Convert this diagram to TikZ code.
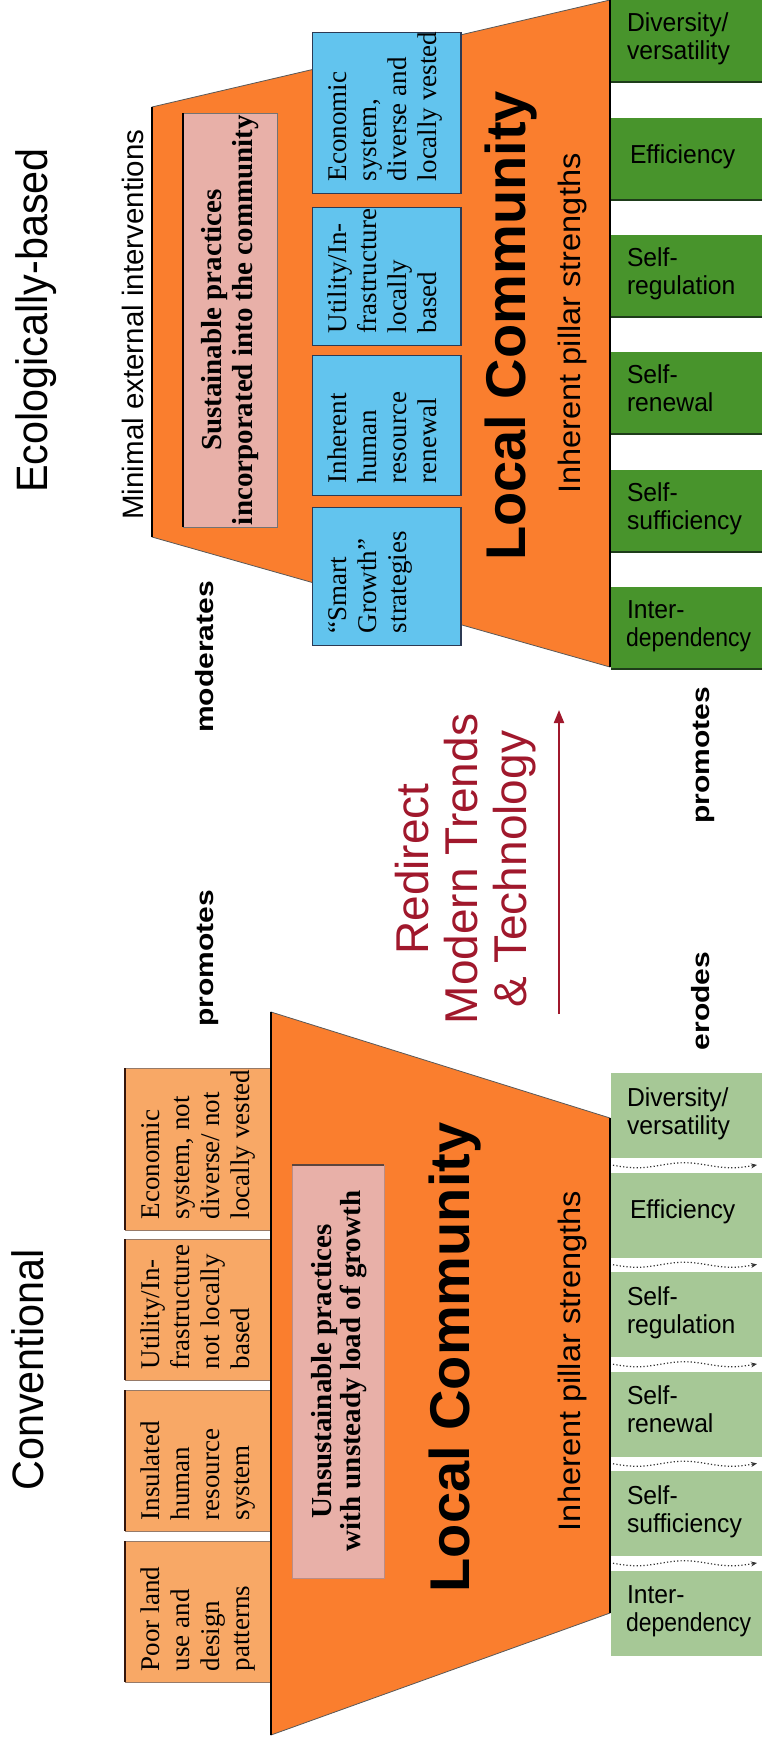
\documentclass[tikz,border=0pt]{standalone}
\usepackage{fontspec}
\usepackage{graphicx}
\usetikzlibrary{arrows.meta}
\setmainfont{Liberation Serif}
\newfontfamily\sansface{Liberation Sans}
\newfontfamily\titleface{Liberation Sans}[FakeStretch=0.94]
\newfontfamily\wideface{Liberation Sans}[FakeStretch=1.2]
\newfontfamily\strengthface{Liberation Sans}[FakeStretch=1.05]
\newfontfamily\pillarface{Liberation Sans}[FakeStretch=0.95]
\newfontfamily\serifface{Liberation Serif}

\definecolor{commorange}{RGB}{250,126,46}
\definecolor{practicepink}{RGB}{232,176,168}
\definecolor{ecoblue}{RGB}{98,196,238}
\definecolor{ecoedge}{RGB}{44,58,84}
\definecolor{convorange}{RGB}{248,168,102}
\definecolor{convedge}{RGB}{150,122,104}
\definecolor{convdark}{RGB}{52,22,12}
\definecolor{pillardark}{RGB}{72,148,44}
\definecolor{pillarshade}{RGB}{30,60,26}
\definecolor{pillarlight}{RGB}{166,200,150}
\definecolor{trendred}{RGB}{160,24,44}

\tikzset{
  vtext/.style={rotate=90, anchor=base, inner sep=0pt, outer sep=0pt},
  vline/.style={rotate=90, anchor=base west, inner sep=0pt, outer sep=0pt},
  sectiontitle/.style={vtext, font=\titleface\fontsize{44}{48}\selectfont},
  relation/.style={vtext, font=\wideface\bfseries\fontsize{25}{28}\selectfont},
  community/.style={vtext, font=\sansface\bfseries\fontsize{56}{60}\selectfont},
  strengths/.style={vtext, font=\strengthface\fontsize{31}{34}\selectfont},
  practice/.style={vtext, font=\serifface\bfseries\fontsize{29}{32}\selectfont},
  boxline/.style={vline, font=\serifface\fontsize{27}{30}\selectfont},
  trend/.style={vtext, text=trendred, font=\sansface\fontsize{46}{49}\selectfont},
  pillarlabel/.style={anchor=base west, inner sep=0pt, outer sep=0pt,
    font=\pillarface\fontsize{26}{28}\selectfont},
  commfill/.style={fill=commorange, draw=black!65, line width=0.8pt},
  heavyedge/.style={line width=2.5pt, black},
  ecobox/.style={fill=ecoblue, draw=ecoedge, line width=1pt,
    minimum width=149pt, inner sep=0pt, outer sep=0pt},
  convbox/.style={fill=convorange, draw=convedge, line width=0.8pt,
    minimum width=146pt, inner sep=0pt, outer sep=0pt},
  pinkbox/.style={fill=practicepink, draw=black!55, line width=0.8pt,
    minimum width=94pt, inner sep=0pt, outer sep=0pt},
  pillartop/.style={fill=pillardark, minimum width=152pt, minimum height=82pt,
    inner sep=0pt, outer sep=0pt},
  pillarlow/.style={fill=pillarlight, minimum width=152pt, minimum height=85pt,
    inner sep=0pt, outer sep=0pt},
  pillarshadow/.style={line width=1.6pt, pillarshade},
  erosion/.style={line width=1.2pt, black!80, dash pattern=on 1.2pt off 2.2pt,
    -{Stealth[length=6pt,width=5pt]}},
}

\begin{document}
\begin{tikzpicture}[x=1pt, y=-1pt]
\useasboundingbox (0,0) rectangle (762,1740);
\fill[white] (0,0) rectangle (762,1740);

% ================= Ecologically-based community =================
\coordinate (ecoTL) at (152,107);
\coordinate (ecoTR) at (610,0);
\coordinate (ecoBR) at (610,667);
\coordinate (ecoBL) at (152,537);
\filldraw[commfill] (ecoTL) -- (ecoTR) -- (ecoBR) -- (ecoBL) -- cycle;
\draw[heavyedge] (ecoTL) -- (ecoBL);

% practices panel
\node[pinkbox, minimum height=414pt] (ecoPractice) at (230,320) {};
\draw[heavyedge] (ecoPractice.north west) -- (ecoPractice.south west);
\node[practice] (ecoPracticeA) at (221,320) {Sustainable practices};
\node[practice] (ecoPracticeB) at (252,320) {incorporated into the community};

% system boxes
\node[ecobox, minimum height=161pt] (eco1) at (386.5,112.5) {};
\node[ecobox, minimum height=138pt] (eco2) at (386.5,276) {};
\node[ecobox, minimum height=140pt] (eco3) at (386.5,425) {};
\node[ecobox, minimum height=138pt] (eco4) at (386.5,576) {};
\foreach \k in {1,...,4}
  \draw[line width=2pt, ecoedge] (eco\k.north east) -- (eco\k.south east);

\foreach \txt [count=\i from 0] in {Economic,{system,},{diverse and},{locally vested}}
  \node[boxline] (ecoTextA\i) at ({346+30*\i},181) {\txt};
\foreach \txt [count=\i from 0] in {Utility/In-,frastructure,locally,based}
  \node[boxline] (ecoTextB\i) at ({346+30*\i},333) {\txt};
\foreach \txt [count=\i from 0] in {Inherent,human,resource,renewal}
  \node[boxline] (ecoTextC\i) at ({346+30*\i},483) {\txt};
\foreach \txt [count=\i from 0] in {“Smart,Growth”,strategies}
  \node[boxline] (ecoTextD\i) at ({346+30*\i},633) {\txt};

\node[community] (ecoCommunity) at (525,326) {Local Community};
\node[strengths] (ecoStrengths) at (580,323.5) {Inherent pillar strengths};

% pillars of strength
\foreach \t [count=\k] in {0,118,235,352,470,587}
  \node[pillartop] (ptop\k) at (687,{\t+41}) {};
\foreach \k in {1,...,6}
  \draw[pillarshadow] (ptop\k.south west) -- (ptop\k.south east);
\draw[heavyedge] (ecoTR) -- (ecoBR);

\node[pillarlabel] (ptopA1) at (627,31) {Diversity/};
\node[pillarlabel] (ptopB1) at (627,59) {versatility};
\node[pillarlabel] (ptopA2) at (630,163) {Efficiency};
\node[pillarlabel] (ptopA3) at (627,266) {Self-};
\node[pillarlabel] (ptopB3) at (627,294) {regulation};
\node[pillarlabel] (ptopA4) at (627,383) {Self-};
\node[pillarlabel] (ptopB4) at (627,411) {renewal};
\node[pillarlabel] (ptopA5) at (627,501) {Self-};
\node[pillarlabel] (ptopB5) at (627,529) {sufficiency};
\node[pillarlabel] (ptopA6) at (627,618) {Inter-};
\node[pillarlabel] (ptopB6) at (626,646) {\scalebox{0.93}[1]{dependency}};

\node[sectiontitle] (ecoTitle) at (47,320.5) {Ecologically-based};
\node[vtext, font=\sansface\fontsize{29.5}{32}\selectfont] (ecoMinimal)
  at (143,324.5) {Minimal external interventions};

% ================= relations and redirection =================
\node[relation] (relModerates) at (213,657) {moderates};
\node[relation] (relPromotesL) at (213,958) {promotes};
\node[relation] (relPromotesR) at (709,755) {promotes};
\node[relation] (relErodes) at (709,1001) {erodes};

\node[trend] (trendA) at (428,869) {Redirect};
\node[trend] (trendB) at (477,869) {Modern Trends};
\node[trend] (trendC) at (526,869) {\& Technology};
\coordinate (trendTail) at (559,1014);
\coordinate (trendTip) at (559,710);
\draw[trendred, line width=2pt, -{Triangle[length=13pt,width=10pt]}]
  (trendTail) -- (trendTip);

% ================= Conventional community =================
\coordinate (convTL) at (271,1012);
\coordinate (convTR) at (610,1118);
\coordinate (convBR) at (610,1613);
\coordinate (convBL) at (271,1735);
\filldraw[commfill] (convTL) -- (convTR) -- (convBR) -- (convBL) -- cycle;

\node[pinkbox, draw=practicepink!80!black, minimum width=92pt, minimum height=413pt]
  (convPractice) at (338,1371.5) {};
\draw[line width=1.2pt, convdark!80] (convPractice.north west) -- (convPractice.north east);
\node[practice] (convPracticeA) at (331,1371) {Unsustainable practices};
\node[practice] (convPracticeB) at (360,1371) {with unsteady load of growth};

\node[convbox, minimum height=162pt] (conv1) at (198,1149) {};
\node[convbox, minimum height=141pt] (conv2) at (198,1309.5) {};
\node[convbox, minimum height=141pt] (conv3) at (198,1460.5) {};
\node[convbox, minimum height=141pt] (conv4) at (198,1611.5) {};
\foreach \k in {1,...,4}
  \draw[line width=2.5pt, convdark] (conv\k.north west) -- (conv\k.south west);

\foreach \txt [count=\i from 0] in {Economic,{system, not},{diverse/ not},{locally vested}}
  \node[boxline] (convTextA\i) at ({159+30*\i},1219) {\txt};
\foreach \txt [count=\i from 0] in {Utility/In-,frastructure,{not locally},based}
  \node[boxline] (convTextB\i) at ({159+30*\i},1369) {\txt};
\foreach \txt [count=\i from 0] in {Insulated,human,resource,system}
  \node[boxline] (convTextC\i) at ({159+30*\i},1520) {\txt};
\foreach \txt [count=\i from 0] in {{Poor land},{use and},design,patterns}
  \node[boxline] (convTextD\i) at ({159+30*\i},1671) {\txt};

\node[community] (convCommunity) at (469,1357.5) {Local Community};
\node[strengths] (convStrengths) at (580,1361) {Inherent pillar strengths};

% eroded pillars
\foreach \t [count=\k] in {1073,1172.5,1272,1371.5,1471,1570.5}
  \node[pillarlow] (plow\k) at (687,{\t+42.5}) {};
\foreach \k in {0,...,4}
  \draw[erosion] plot[smooth, domain=613:757, samples=25]
    (\x, {1165.25 + 99.5*\k + 2.5*sin((\x-613)*3.8)});
\draw[heavyedge] (convTL) -- (convBL);
\draw[heavyedge] (convTR) -- (convBR);

\node[pillarlabel] (plowA1) at (627,1106) {Diversity/};
\node[pillarlabel] (plowB1) at (627,1134) {versatility};
\node[pillarlabel] (plowA2) at (630,1218.5) {Efficiency};
\node[pillarlabel] (plowA3) at (627,1305) {Self-};
\node[pillarlabel] (plowB3) at (627,1333) {regulation};
\node[pillarlabel] (plowA4) at (627,1404.5) {Self-};
\node[pillarlabel] (plowB4) at (627,1432.5) {renewal};
\node[pillarlabel] (plowA5) at (627,1504) {Self-};
\node[pillarlabel] (plowB5) at (627,1532) {sufficiency};
\node[pillarlabel] (plowA6) at (627,1603.5) {Inter-};
\node[pillarlabel] (plowB6) at (626,1631.5) {\scalebox{0.93}[1]{dependency}};

\node[sectiontitle] (convTitle) at (43,1370) {Conventional};
\end{tikzpicture}
\end{document}
